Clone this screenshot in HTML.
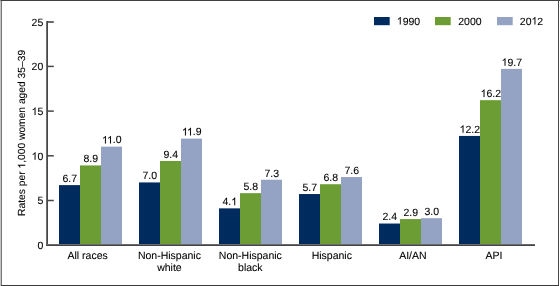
<!DOCTYPE html>
<html><head><meta charset="utf-8"><style>
html,body{margin:0;padding:0;background:#fff;}
svg{display:block;will-change:transform;}
.one{fill-opacity:0;stroke-opacity:0;}
.g1{fill:#000;stroke:#000;stroke-width:0.08px;}
text{text-rendering:geometricPrecision;font-family:"Liberation Sans",sans-serif;font-size:10.5px;fill:#000;stroke:#000;stroke-width:0.08px;}
</style></head><body>
<svg width="560" height="286" viewBox="0 0 560 286">
<rect x="0" y="0" width="560" height="286" fill="#fff"/>
<rect x="59" y="185.10" width="21" height="59.90" fill="#002b5e"/>
<text transform="translate(69.80,181.90) scale(1,1)" text-anchor="middle">6.7</text>
<rect x="80" y="165.43" width="21" height="79.57" fill="#6b9d34"/>
<text transform="translate(90.80,162.23) scale(1,1)" text-anchor="middle">8.9</text>
<rect x="101" y="146.66" width="21" height="98.34" fill="#94a3c4"/>
<text transform="translate(111.80,143.46) scale(1,1)" text-anchor="middle"><tspan class="one">1</tspan><tspan class="one">1</tspan>.0</text>
<rect x="139" y="182.42" width="21" height="62.58" fill="#002b5e"/>
<text transform="translate(149.80,179.22) scale(1,1)" text-anchor="middle">7.0</text>
<rect x="160" y="160.96" width="21" height="84.04" fill="#6b9d34"/>
<text transform="translate(170.80,157.76) scale(1,1)" text-anchor="middle">9.4</text>
<rect x="181" y="138.61" width="21" height="106.39" fill="#94a3c4"/>
<text transform="translate(191.80,135.41) scale(1,1)" text-anchor="middle"><tspan class="one">1</tspan><tspan class="one">1</tspan>.9</text>
<rect x="219" y="208.35" width="21" height="36.65" fill="#002b5e"/>
<text transform="translate(229.80,205.15) scale(1,1)" text-anchor="middle">4.<tspan class="one">1</tspan></text>
<rect x="240" y="193.15" width="21" height="51.85" fill="#6b9d34"/>
<text transform="translate(250.80,189.95) scale(1,1)" text-anchor="middle">5.8</text>
<rect x="261" y="179.74" width="21" height="65.26" fill="#94a3c4"/>
<text transform="translate(271.80,176.54) scale(1,1)" text-anchor="middle">7.3</text>
<rect x="299" y="194.04" width="21" height="50.96" fill="#002b5e"/>
<text transform="translate(309.80,190.84) scale(1,1)" text-anchor="middle">5.7</text>
<rect x="320" y="184.21" width="21" height="60.79" fill="#6b9d34"/>
<text transform="translate(330.80,181.01) scale(1,1)" text-anchor="middle">6.8</text>
<rect x="341" y="177.06" width="21" height="67.94" fill="#94a3c4"/>
<text transform="translate(351.80,173.86) scale(1,1)" text-anchor="middle">7.6</text>
<rect x="379" y="223.54" width="21" height="21.46" fill="#002b5e"/>
<text transform="translate(389.80,220.34) scale(1,1)" text-anchor="middle">2.4</text>
<rect x="400" y="219.07" width="21" height="25.93" fill="#6b9d34"/>
<text transform="translate(410.80,215.87) scale(1,1)" text-anchor="middle">2.9</text>
<rect x="421" y="218.18" width="21" height="26.82" fill="#94a3c4"/>
<text transform="translate(431.80,214.98) scale(1,1)" text-anchor="middle">3.0</text>
<rect x="459" y="135.93" width="21" height="109.07" fill="#002b5e"/>
<text transform="translate(469.80,132.73) scale(1,1)" text-anchor="middle"><tspan class="one">1</tspan>2.2</text>
<rect x="480" y="100.17" width="21" height="144.83" fill="#6b9d34"/>
<text transform="translate(490.80,96.97) scale(1,1)" text-anchor="middle"><tspan class="one">1</tspan>6.2</text>
<rect x="501" y="68.88" width="21" height="176.12" fill="#94a3c4"/>
<text transform="translate(511.80,65.68) scale(1,1)" text-anchor="middle"><tspan class="one">1</tspan>9.7</text>
<rect x="46" y="21" width="1" height="225" fill="#6e6e6e"/>
<rect x="47" y="21" width="1" height="225" fill="#484848"/>
<rect x="46" y="244" width="489" height="1" fill="#6a6a6a"/>
<rect x="46" y="245" width="489" height="1" fill="#464646"/>
<text transform="translate(43.30,249.10) scale(1,1)" text-anchor="end">0</text>
<rect x="48" y="199.75" width="5.8" height="1.5" fill="#484848"/>
<text transform="translate(43.30,204.40) scale(1,1)" text-anchor="end">5</text>
<rect x="48" y="155.05" width="5.8" height="1.5" fill="#484848"/>
<text transform="translate(43.30,159.70) scale(1,1)" text-anchor="end"><tspan class="one">1</tspan>0</text>
<rect x="48" y="110.35" width="5.8" height="1.5" fill="#484848"/>
<text transform="translate(43.30,115.00) scale(1,1)" text-anchor="end"><tspan class="one">1</tspan>5</text>
<rect x="48" y="65.65" width="5.8" height="1.5" fill="#484848"/>
<text transform="translate(43.30,70.30) scale(1,1)" text-anchor="end">20</text>
<rect x="48" y="21.2" width="5.8" height="1.6" fill="#484848"/>
<text transform="translate(43.30,25.60) scale(1,1)" text-anchor="end">25</text>
<rect x="374" y="17" width="15.7" height="8.2" fill="#002b5e"/>
<text transform="translate(396.80,24.50) scale(1,1)" text-anchor="start"><tspan class="one">1</tspan>990</text>
<rect x="435" y="17" width="15.7" height="8.2" fill="#6b9d34"/>
<text transform="translate(458.20,24.50) scale(1,1)" text-anchor="start">2000</text>
<rect x="497" y="17" width="15.7" height="8.2" fill="#94a3c4"/>
<text transform="translate(519.80,24.50) scale(1,1)" text-anchor="start">20<tspan class="one">1</tspan>2</text>
<text transform="translate(87.60,259.20) scale(1,1)" text-anchor="middle">All races</text>
<text transform="translate(169.40,259.20) scale(1,1)" text-anchor="middle">Non-Hispanic</text>
<text transform="translate(169.40,270.80) scale(1,1)" text-anchor="middle">white</text>
<text transform="translate(250.35,259.20) scale(1,1)" text-anchor="middle">Non-Hispanic</text>
<text transform="translate(250.35,270.80) scale(1,1)" text-anchor="middle">black</text>
<text transform="translate(331.80,259.20) scale(1,1)" text-anchor="middle">Hispanic</text>
<text transform="translate(412.90,259.20) scale(1,1)" text-anchor="middle">AI/AN</text>
<text transform="translate(493.90,259.20) scale(1,1)" text-anchor="middle">API</text>
<text transform="translate(25.20,132.90) rotate(-90) scale(1,1)" text-anchor="middle" style="font-size:10.28px">Rates per <tspan class="one">1</tspan>,000 women aged 35–39</text>
<path class="g1" d="M 105.88 143.46 L 104.95 143.46 L 104.95 137.58 Q 104.62 137.90 104.08 138.22 Q 103.53 138.53 103.10 138.69 L 103.10 137.80 Q 103.88 137.44 104.46 136.92 Q 105.04 136.40 105.28 135.91 L 105.88 135.91 Z"/>
<path class="g1" d="M 110.94 143.46 L 110.02 143.46 L 110.02 137.58 Q 109.68 137.90 109.14 138.22 Q 108.60 138.53 108.16 138.69 L 108.16 137.80 Q 108.94 137.44 109.52 136.92 Q 110.10 136.40 110.34 135.91 L 110.94 135.91 Z"/>
<path class="g1" d="M 185.88 135.41 L 184.95 135.41 L 184.95 129.53 Q 184.62 129.85 184.08 130.17 Q 183.53 130.48 183.10 130.64 L 183.10 129.75 Q 183.88 129.39 184.46 128.87 Q 185.04 128.35 185.28 127.86 L 185.88 127.86 Z"/>
<path class="g1" d="M 190.94 135.41 L 190.02 135.41 L 190.02 129.53 Q 189.68 129.85 189.14 130.17 Q 188.60 130.48 188.16 130.64 L 188.16 129.75 Q 188.94 129.39 189.52 128.87 Q 190.10 128.35 190.34 127.86 L 190.94 127.86 Z"/>
<path class="g1" d="M 235.17 205.15 L 234.25 205.15 L 234.25 199.27 Q 233.92 199.59 233.37 199.91 Q 232.83 200.22 232.40 200.38 L 232.40 199.49 Q 233.17 199.13 233.75 198.61 Q 234.33 198.09 234.57 197.60 L 235.17 197.60 Z"/>
<path class="g1" d="M 463.49 132.73 L 462.56 132.73 L 462.56 126.85 Q 462.23 127.17 461.69 127.49 Q 461.14 127.80 460.71 127.96 L 460.71 127.07 Q 461.49 126.71 462.07 126.19 Q 462.64 125.67 462.89 125.18 L 463.49 125.18 Z"/>
<path class="g1" d="M 484.49 96.97 L 483.56 96.97 L 483.56 91.09 Q 483.23 91.41 482.69 91.73 Q 482.14 92.04 481.71 92.20 L 481.71 91.31 Q 482.49 90.95 483.07 90.43 Q 483.64 89.91 483.89 89.42 L 484.49 89.42 Z"/>
<path class="g1" d="M 505.49 65.68 L 504.56 65.68 L 504.56 59.80 Q 504.23 60.12 503.69 60.44 Q 503.14 60.75 502.71 60.91 L 502.71 60.02 Q 503.49 59.66 504.07 59.14 Q 504.64 58.62 504.89 58.13 L 505.49 58.13 Z"/>
<path class="g1" d="M 35.52 159.70 L 34.60 159.70 L 34.60 153.82 Q 34.27 154.14 33.72 154.46 Q 33.18 154.77 32.75 154.93 L 32.75 154.04 Q 33.52 153.68 34.10 153.16 Q 34.68 152.64 34.92 152.15 L 35.52 152.15 Z"/>
<path class="g1" d="M 35.52 115.00 L 34.60 115.00 L 34.60 109.12 Q 34.27 109.44 33.72 109.76 Q 33.18 110.07 32.75 110.23 L 32.75 109.34 Q 33.52 108.98 34.10 108.46 Q 34.68 107.94 34.92 107.45 L 35.52 107.45 Z"/>
<path class="g1" d="M 400.71 24.50 L 399.79 24.50 L 399.79 18.62 Q 399.46 18.94 398.91 19.26 Q 398.37 19.57 397.94 19.73 L 397.94 18.84 Q 398.71 18.48 399.29 17.96 Q 399.87 17.44 400.11 16.95 L 400.71 16.95 Z"/>
<path class="g1" d="M 535.40 24.50 L 534.48 24.50 L 534.48 18.62 Q 534.14 18.94 533.60 19.26 Q 533.06 19.57 532.63 19.73 L 532.63 18.84 Q 533.40 18.48 533.98 17.96 Q 534.56 17.44 534.80 16.95 L 535.40 16.95 Z"/>
<path class="g1" d="M 25.20 164.76 L 25.20 165.66 L 19.44 165.66 Q 19.75 165.99 20.07 166.52 Q 20.38 167.05 20.53 167.47 L 19.66 167.47 Q 19.30 166.72 18.80 166.15 Q 18.29 165.58 17.81 165.34 L 17.81 164.76 Z"/>
<rect x="0" y="0" width="560" height="1" fill="#404040"/>
<rect x="558" y="0" width="1" height="286" fill="#484848"/>
<rect x="0" y="285" width="559" height="1" fill="#3a3a3a"/>
<rect x="1" y="1" width="1" height="284" fill="#787878"/>
<rect x="0" y="0" width="1" height="286" fill="#c4c4c4"/>
<rect x="0" y="0" width="1" height="1" fill="#888"/>
</svg>
</body></html>
